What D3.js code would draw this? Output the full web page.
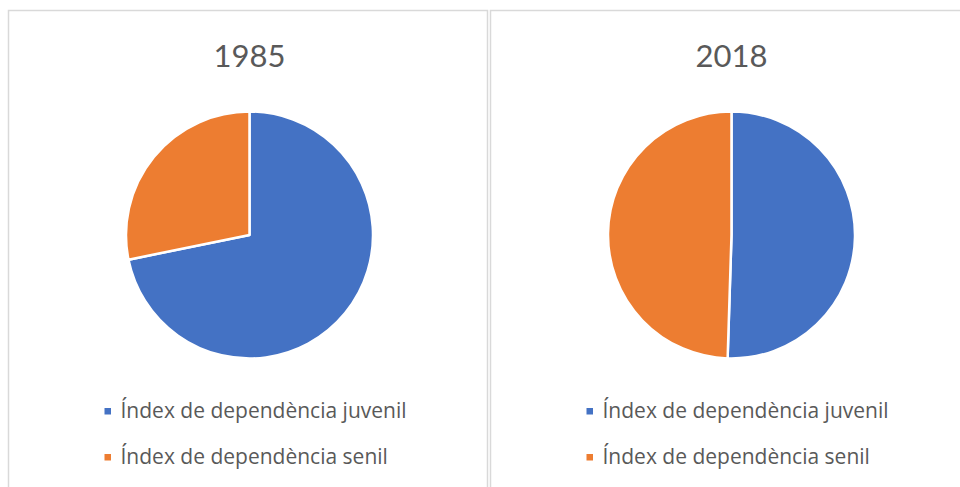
<!DOCTYPE html>
<html>
<head>
<meta charset="utf-8">
<script src="https://cdn.jsdelivr.net/npm/d3@7"></script>
<style>
  body { margin: 0; background: #fff; }
  svg { display: block; }
</style>
</head>
<body>
<div class="container"></div>
<script>
var years = ["1985", "2018"];
var categories = ["Índex de dependència juvenil", "Índex de dependència senil"];
var values1985 = [71.8, 28.2];
var values2018 = [50.5, 49.5];

const WIDTH = 960;
const HEIGHT = 487;
const RADIUS = 123.5;
const COLORS = ["#4472c4", "#ed7d31"];

var translate = function(x, y){
  return "translate(" + x + "," + y + ")";
};

var _color = d3.scaleOrdinal().domain(categories).range(COLORS);

var _pie = d3.pie().sort(null).value(function(d){ return d.value; });
var _arc = d3.arc().innerRadius(0).outerRadius(RADIUS);

var panels = [
  { year: years[0], values: values1985, x: 8 },
  { year: years[1], values: values2018, x: 490 }
];

var generateChart = function(){
  var svg = d3.select('.container').append('svg')
    .attr('width', WIDTH)
    .attr('height', HEIGHT);

  panels.forEach(function(p){
    var cx = p.x + 241.5;
    var g = svg.append('g');

    // panel frame
    g.append('rect')
      .attr('x', p.x + 0.5)
      .attr('y', 10.5)
      .attr('width', 479)
      .attr('height', 500)
      .attr('fill', 'none')
      .attr('stroke', '#d9d9d9')
      .attr('stroke-width', 1.5);

    // title
    g.append('text')
      .attr('x', cx)
      .attr('y', 67)
      .attr('text-anchor', 'middle')
      .attr('font-family', 'Lato, "Open Sans", sans-serif')
      .attr('font-size', 31)
      .attr('fill', '#595959')
      .text(p.year);

    var data = categories.map(function(c, i){ return { name: c, value: p.values[i] }; });

    var pieG = g.append('g').attr('transform', translate(cx, 235));
    pieG.selectAll('path').data(_pie(data))
      .enter().append('path')
      .attr('d', _arc)
      .attr('fill', function(d){ return _color(d.data.name); })
      .attr('stroke', '#fff')
      .attr('stroke-width', 2.5)
      .attr('stroke-linejoin', 'round');

    // legend
    var leg = g.selectAll('.legend').data(categories)
      .enter().append('g')
      .attr('transform', function(d, i){ return translate(cx - 145, 408 + i * 46); });
    leg.append('rect')
      .attr('width', 6.5)
      .attr('height', 6.5)
      .attr('fill', function(d){ return _color(d); });
    leg.append('text')
      .attr('x', 16)
      .attr('y', 10)
      .attr('font-family', '"Open Sans", sans-serif')
      .attr('font-size', 21)
      .attr('fill', '#595959')
      .text(function(d){ return d; });
  });
}

window.onload = generateChart;
</script>
</body>
</html>
